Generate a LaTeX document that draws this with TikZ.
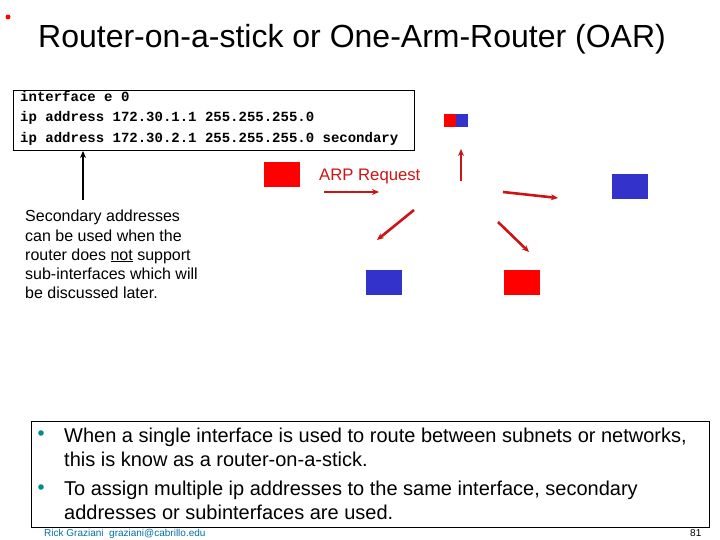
\documentclass[tikz,border=0pt]{standalone}
\usepackage{fontspec}
\setmainfont{Liberation Sans}
\setmonofont{Liberation Mono}
\usetikzlibrary{positioning, arrows.meta}

\definecolor{arpred}{RGB}{204,20,20}
\definecolor{hostred}{RGB}{255,0,0}
\definecolor{hostblue}{RGB}{51,51,204}
\definecolor{tealdot}{RGB}{0,140,140}

\tikzset{
  host/.style={rectangle, inner sep=0pt, minimum width=36pt, minimum height=25pt},
  arp/.style={->, draw=arpred, line width=2.6pt},
  codeline/.style={anchor=base west, inner sep=0pt, font=\fontsize{14}{16}\selectfont\ttfamily\bfseries},
  noteline/.style={anchor=base west, inner sep=0pt, font=\fontsize{16}{19}\selectfont},
  bulletline/.style={anchor=base west, inner sep=0pt, font=\fontsize{20}{24}\selectfont},
}

\begin{document}
\begin{tikzpicture}[x=1pt, y=-1pt, >={Stealth[length=7pt,width=6pt]}]

    \useasboundingbox (0,0) rectangle (720,540);

    % --- 标题 ---
    \fill[hostred] (8,17) circle (2.5pt);
    \node[anchor=base west, inner sep=0pt, font=\fontsize{32}{38}\selectfont] (title) at (38,48) {Router-on-a-stick or One-Arm-Router (OAR)};

    % --- 配置框 ---
    \draw[line width=0.8pt] (13,90) rectangle (414,150);
    \node[codeline] (cfg1) at (20,102) {interface e 0};
    \node[codeline] (cfg2) at (20,122) {ip address 172.30.1.1 255.255.255.0};
    \node[codeline] (cfg3) at (20,143) {ip address 172.30.2.1 255.255.255.0 secondary};

    % --- 说明文字 ---
    \node[noteline] (note1) at (25,222) {Secondary addresses};
    \node[noteline] (note2) at (25,241) {can be used when the};
    \node[noteline] (note3) at (25,260) {router does \underline{not} support};
    \node[noteline] (note4) at (25,279) {sub-interfaces which will};
    \node[noteline] (note5) at (25,298) {be discussed later.};

    \coordinate (noteTop) at (83,200);
    \coordinate (boxBottom) at (83,151);
    \draw[->, line width=1.4pt] (noteTop) -- (boxBottom);

    % --- 主机 ---
    \node[host, fill=hostred] (srcHost) at (282,174.5) {};
    \node[host, fill=hostblue] (blueA) at (630,186.5) {};
    \node[host, fill=hostblue] (blueB) at (384,282) {};
    \node[host, fill=hostred] (redB) at (522,282) {};
    % 路由器 (红/蓝两半)
    \node[rectangle, inner sep=0pt, minimum width=12pt, minimum height=13pt, fill=hostred] (rtrL) at (450,120.5) {};
    \node[rectangle, inner sep=0pt, minimum width=12pt, minimum height=13pt, fill=hostblue, right=0pt of rtrL] (rtrR) {};

    \node[anchor=base west, inner sep=0pt, text=arpred, font=\fontsize{16.7}{19}\selectfont] (arpLabel) at (319,181) {ARP Request};

    % --- ARP 箭头 ---
    \coordinate (a1s) at (324,192);  \coordinate (a1e) at (379,192);
    \coordinate (a2s) at (461,181);  \coordinate (a2e) at (461,149);
    \coordinate (a3s) at (503,192);  \coordinate (a3e) at (558,198);
    \coordinate (a4s) at (414,210);  \coordinate (a4e) at (377,240);
    \coordinate (a5s) at (498,222);  \coordinate (a5e) at (529,252);
    \draw[arp] (a1s) -- (a1e);
    \draw[arp] (a2s) -- (a2e);
    \draw[arp] (a3s) -- (a3e);
    \draw[arp] (a4s) -- (a4e);
    \draw[arp] (a5s) -- (a5e);

    % --- 页脚 ---
    \node[anchor=base west, inner sep=0pt, text=tealdot!80!blue, font=\fontsize{10}{12}\selectfont] (footer) at (44,536) {Rick Graziani\ \ graziani@cabrillo.edu};
    \node[anchor=base west, inner sep=0pt, font=\fontsize{10}{12}\selectfont] (pageNo) at (690,536) {81};

    % --- 要点框 ---
    \draw[fill=white, line width=0.8pt] (31,421) rectangle (709,527);
    \fill[tealdot] (41,433) circle (2.8pt);
    \fill[tealdot] (41,487) circle (2.8pt);
    \node[bulletline] (pt1a) at (64,442) {When a single interface is used to route between subnets or networks,};
    \node[bulletline] (pt1b) at (64,466.5) {this is know as a router-on-a-stick.};
    \node[bulletline] (pt2a) at (64,495.5) {To assign multiple ip addresses to the same interface, secondary};
    \node[bulletline] (pt2b) at (64,519.5) {addresses or subinterfaces are used.};

\end{tikzpicture}
\end{document}
